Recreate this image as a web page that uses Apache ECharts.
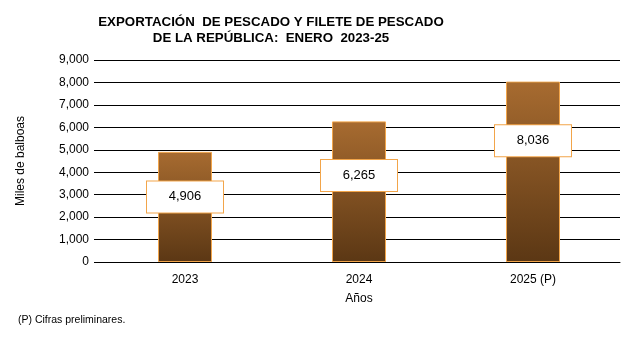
<!DOCTYPE html>
<html><head><meta charset="utf-8">
<script src="https://cdn.jsdelivr.net/npm/echarts@6/dist/echarts.min.js"></script>
<style>html,body{margin:0;padding:0;background:#fff}#c{width:636px;height:338px}</style>
</head><body><div id="c"></div>
<script>
var categories = ['2023', '2024', '2025 (P)'];
var values = [4906, 6265, 8036];
var labelDistances = [45, 54, 59];
var yTicks = [0, 1000, 2000, 3000, 4000, 5000, 6000, 7000, 8000, 9000];

var chart = echarts.init(document.getElementById('c'), null, {renderer: 'canvas'});
var F = 'Liberation Sans, Arial, sans-serif';
chart.setOption({
  animation: false,
  textStyle: {fontFamily: F},
  title: {
    text: 'EXPORTACIÓN  DE PESCADO Y FILETE DE PESCADO\nDE LA REPÚBLICA:  ENERO  2023-25',
    left: 266, top: 9, textAlign: 'center',
    textStyle: {fontFamily: F, fontSize: 13.3, fontWeight: 'bold', color: '#000', lineHeight: 16}
  },
  graphic: [{type: 'text', left: 18, top: 315, style: {text: '(P) Cifras preliminares.', font: '10.5px ' + F, fill: '#000'}}],
  grid: {left: 98, right: 16, top: 60, bottom: 76},
  xAxis: {
    type: 'category', data: categories,
    name: 'Años', nameLocation: 'middle', nameGap: 31,
    nameTextStyle: {fontFamily: F, fontSize: 12, color: '#000'},
    axisLine: {lineStyle: {color: '#000', width: 1}},
    axisTick: {show: false},
    axisLabel: {fontFamily: F, fontSize: 12, color: '#000', margin: 12}
  },
  yAxis: {
    type: 'value', min: 0, max: 9000, interval: 1000,
    name: 'Miles de balboas', nameLocation: 'middle', nameGap: 71, nameRotate: 90,
    nameTextStyle: {fontFamily: F, fontSize: 12, color: '#000'},
    axisLine: {show: false},
    axisTick: {show: true, length: 4, lineStyle: {color: '#000'}},
    splitLine: {lineStyle: {color: '#000', width: 1}},
    axisLabel: {fontFamily: F, fontSize: 12, color: '#000', margin: 9,
      formatter: function (v) { return yTicks.indexOf(v) >= 0 ? v.toLocaleString('en-US') : ''; }}
  },
  series: [{
    type: 'bar', barWidth: 54,
    data: values.map(function (v, i) {
      return {value: v, label: {distance: labelDistances[i]}};
    }),
    itemStyle: {
      color: new echarts.graphic.LinearGradient(0, 0, 0, 1, [
        {offset: 0, color: '#a76b30'}, {offset: 1, color: '#5b3714'}
      ]),
      borderColor: '#f2a54a', borderWidth: 1
    },
    label: {
      show: true, position: 'insideTop',
      formatter: function (p) { return p.value.toLocaleString('en-US'); },
      backgroundColor: '#fff', borderColor: '#f2a54a', borderWidth: 1,
      width: 64, height: 19, align: 'center', verticalAlign: 'middle', lineHeight: 19,
      padding: [6, 6], fontFamily: F, fontSize: 13, color: '#000'
    }
  }]
});
</script></body></html>
